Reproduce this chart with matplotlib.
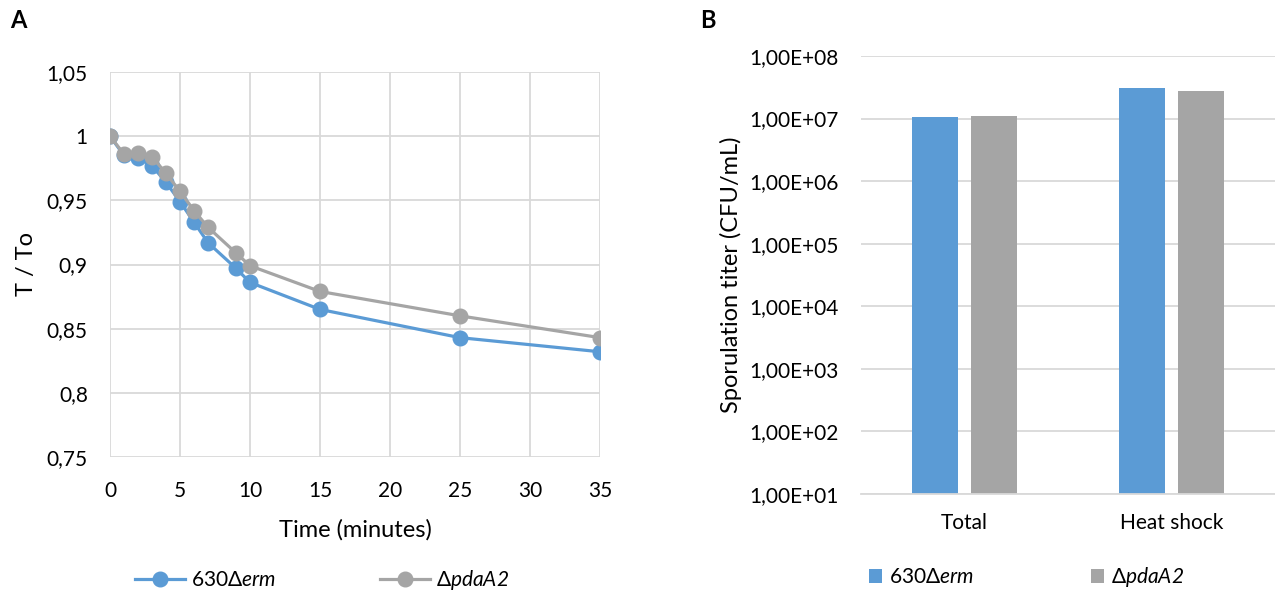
import matplotlib
matplotlib.use("Agg")
import matplotlib.pyplot as plt
import numpy as np
from matplotlib.ticker import FixedLocator, FuncFormatter, NullLocator

plt.rcParams['font.family'] = ['Lato', 'DejaVu Sans']
plt.rcParams['mathtext.fontset'] = 'custom'
plt.rcParams['mathtext.rm'] = 'Lato:italic'
plt.rcParams['mathtext.it'] = 'Lato:italic'

# panel A: relative T over time
time_min = [0, 1, 2, 3, 4, 5, 6, 7, 9, 10, 15, 25, 35]
t_wt = [1.0, 0.985, 0.983, 0.977, 0.964, 0.949, 0.933, 0.917, 0.897, 0.886, 0.865, 0.843, 0.832]
t_pda = [1.0, 0.986, 0.987, 0.984, 0.971, 0.957, 0.942, 0.929, 0.909, 0.899, 0.879, 0.860, 0.843]

# panel B: sporulation titer
categories = ["Total", "Heat shock"]
titer_wt = [1.05e7, 3.06e7]
titer_pda = [1.10e7, 2.75e7]

label_wt = "630Δ$erm$"
label_pda = "Δ$pdaA2$"

blue = "#5b9bd5"
gray = "#a5a5a5"
grid_c = "#d9d9d9"

fig = plt.figure(figsize=(12.75, 5.99), dpi=100)

# ---- panel A
axA = fig.add_axes([110 / 1275, 1 - 457 / 599, 490 / 1275, 385 / 599])
axA.plot(time_min, t_wt, color=blue, lw=2.3, marker="o", ms=10.5, label=label_wt)
axA.plot(time_min, t_pda, color=gray, lw=2.3, marker="o", ms=10.5, label=label_pda)
axA.set_xlim(0, 35)
axA.set_ylim(0.75, 1.05)
axA.set_xticks(np.arange(0, 36, 5))
axA.set_yticks([0.75, 0.8, 0.85, 0.9, 0.95, 1.0, 1.05])
axA.yaxis.set_major_formatter(FuncFormatter(lambda v, p: ("%g" % round(v, 2)).replace(".", ",")))
axA.grid(True, color=grid_c, lw=1.3)
axA.set_axisbelow(True)
for s in axA.spines.values():
    s.set_visible(False)
axA.tick_params(axis="y", length=0, labelsize=15, pad=16)
axA.tick_params(axis="x", length=0, labelsize=15, pad=17)
axA.set_xlabel("Time (minutes)", fontsize=17, labelpad=13)
axA.set_ylabel("T / To", fontsize=17, labelpad=7)
axA.legend(loc="center", bbox_to_anchor=(0.433, -0.32), ncol=2, frameon=False,
           fontsize=15, columnspacing=5.0, handlelength=2.4, handletextpad=0.3)
fig.text(10 / 1275, 1 - 20 / 599, "A", fontsize=17, fontweight="bold", va="center")

# ---- panel B
axB = fig.add_axes([861 / 1275, 1 - 494 / 599, 414 / 1275, 438 / 599])
x = np.arange(len(categories))
w = 0.225
axB.bar(x - 0.1425, titer_wt, width=w, color=blue, label=label_wt)
axB.bar(x + 0.1425, titer_pda, width=w, color=gray, label=label_pda)
axB.set_yscale("log")
axB.set_ylim(10, 1e8)
axB.set_xlim(-0.5, 1.5)
axB.yaxis.set_major_locator(FixedLocator([10.0 ** k for k in range(1, 9)]))
axB.yaxis.set_minor_locator(NullLocator())
axB.yaxis.set_major_formatter(FuncFormatter(lambda v, p: "1,00E+%02d" % int(round(np.log10(v)))))
axB.set_xticks(x)
axB.set_xticklabels(categories)
axB.grid(True, axis="y", color=grid_c, lw=1.3)
axB.set_axisbelow(True)
for s in ["top", "right", "left"]:
    axB.spines[s].set_visible(False)
axB.spines["bottom"].set_color(grid_c)
axB.spines["bottom"].set_linewidth(1.3)
axB.tick_params(axis="y", length=0, labelsize=15, pad=16)
axB.tick_params(axis="x", length=0, labelsize=15, pad=14)
axB.set_ylabel("Sporulation titer (CFU/mL)", fontsize=17, labelpad=5)
axB.legend(loc="center", bbox_to_anchor=(0.399, -0.19), ncol=2, frameon=False,
           fontsize=15, columnspacing=5.6, handlelength=0.63, handleheight=0.63, handletextpad=0.34)
fig.text(700 / 1275, 1 - 20 / 599, "B", fontsize=17, fontweight="bold", va="center")

fig.savefig("out.png", dpi=100)
